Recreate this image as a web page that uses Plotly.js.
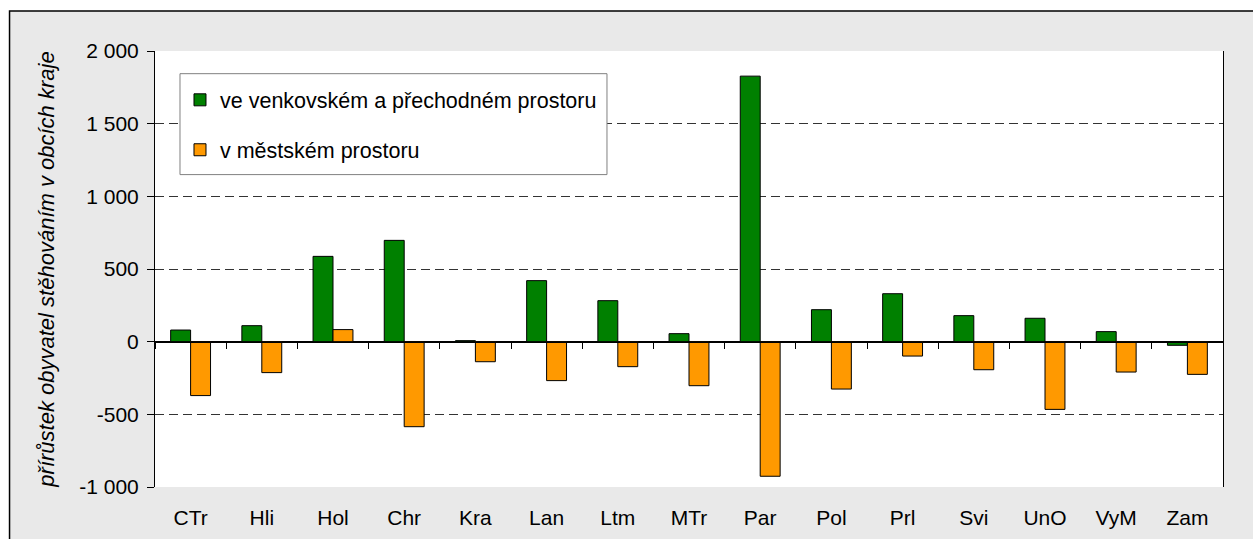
<!DOCTYPE html>
<html>
<head>
<meta charset="utf-8">
<script src="https://cdn.plot.ly/plotly-3.0.1.min.js"></script>
<style>html,body{margin:0;padding:0;background:#fff;}#chart{width:1253px;height:539px;}</style>
</head>
<body>
<div id="chart"></div>
<script>
const categories = ["CTr","Hli","Hol","Chr","Kra","Lan","Ltm","MTr","Par","Pol","Prl","Svi","UnO","VyM","Zam"];
const venkovsky = [80, 110, 587, 697, 7, 420, 282, 55, 1827, 220, 330, 179, 161, 69, -25];
const mestsky = [-371, -213, 83, -585, -138, -268, -172, -303, -926, -326, -99, -193, -466, -209, -225];
const seriesNames = ["ve venkovském a přechodném prostoru", "v městském prostoru"];
const yTickVals = [-1000, -500, 0, 500, 1000, 1500, 2000];
const yTickText = ["-1 000", "-500", "0", "500", "1 000", "1 500", "2 000"];
const yTitle = "přírůstek obyvatel stěhováním v obcích kraje";

const FONT = "Liberation Sans, Arial, sans-serif";
const traces = [
  {type:"bar", x:categories, y:venkovsky, name:seriesNames[0], legendgroup:"a",
   marker:{color:"#008000", line:{color:"#000", width:1}}, hoverinfo:"x+y"},
  {type:"bar", x:categories, y:mestsky, name:seriesNames[1], legendgroup:"b",
   marker:{color:"#FF9900", line:{color:"#000", width:1}}, hoverinfo:"x+y"},
  {type:"scatter", mode:"lines", x:categories, y:categories.map(()=>0), xaxis:"x2", yaxis:"y",
   line:{width:0, color:"rgba(0,0,0,0)"}, showlegend:false, hoverinfo:"skip"}
];

const layout = {
  width:1253, height:539,
  margin:{l:155, r:30, t:51, b:52},
  paper_bgcolor:"#ffffff",
  plot_bgcolor:"#ffffff",
  font:{family:FONT, size:21, color:"#000"},
  barmode:"group", bargap:0.44, bargroupgap:0,
  showlegend:true,
  legend:{x:0.0234, y:0.935, xanchor:"left", yanchor:"top",
          bgcolor:"rgba(0,0,0,0)", borderwidth:0,
          font:{family:FONT, size:21.5, color:"#000"},
          traceorder:"grouped", tracegroupgap:19, itemwidth:30},
  xaxis:{type:"category", range:[-0.5,14.5], showgrid:false, zeroline:false, showline:false,
         ticks:"outside", ticklen:12, tickcolor:"rgba(0,0,0,0)",
         tickfont:{family:FONT, size:21, color:"#000"}, fixedrange:true},
  xaxis2:{type:"category", overlaying:"x", anchor:"free", position:1/3, range:[-0.5,14.5],
          showgrid:false, zeroline:false, showline:true, linecolor:"#000", linewidth:1,
          ticks:"outside", tickson:"boundaries", ticklen:6, tickcolor:"#000", tickwidth:1,
          showticklabels:false, fixedrange:true},
  yaxis:{range:[-1000,2000], tickvals:yTickVals, ticktext:yTickText,
         showgrid:true, gridcolor:"#333", gridwidth:1, griddash:"9px,5px",
         zeroline:true, zerolinecolor:"#000", zerolinewidth:1,
         showline:true, linecolor:"#000", linewidth:1, mirror:true,
         ticks:"outside", ticklen:7, tickcolor:"#000", ticklabelstandoff:4,
         tickfont:{family:FONT, size:21, color:"#000"},
         title:{text:yTitle, standoff:18, font:{family:FONT, size:22, color:"#000", style:"italic"}},
         fixedrange:true},
  shapes:[
    {type:"rect", xref:"paper", yref:"paper", x0:-0.1362, x1:1.06, y0:-0.2, y1:1.0917,
     fillcolor:"#e9e9e9", line:{color:"#000", width:1.5}, layer:"below"},
    {type:"rect", xref:"paper", yref:"paper", x0:0, x1:1, y0:0, y1:1,
     fillcolor:"#ffffff", line:{width:0}, layer:"below"},
    {type:"rect", xref:"paper", yref:"paper", x0:0.0234, x1:0.4232, y0:0.7165, y1:0.948,
     fillcolor:"#ffffff", line:{color:"#808080", width:1}, layer:"above"}
  ]
};

Plotly.newPlot("chart", traces, layout, {displayModeBar:false, staticPlot:true});
</script>
</body>
</html>
